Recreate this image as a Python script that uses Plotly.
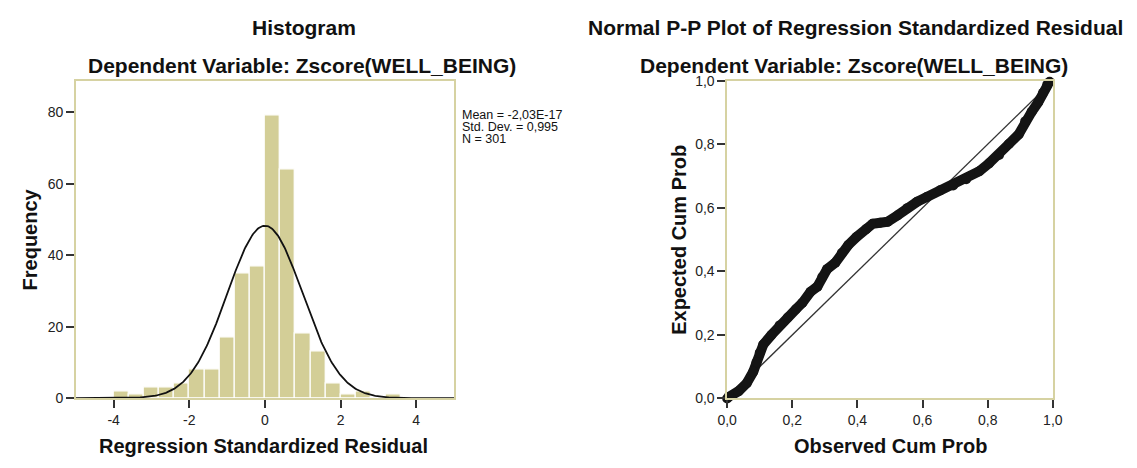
import numpy as np
import plotly.graph_objects as go

# ---------------- data ----------------
bin_left = [-4.0, -3.6, -3.2, -2.8, -2.4, -2.0, -1.6, -1.2, -0.8, -0.4,
            0.0, 0.4, 0.8, 1.2, 1.6, 2.0, 2.4, 2.8, 3.2]
counts = [2, 1, 3, 3, 4, 8, 8, 17, 35, 37,
          79, 64, 18, 13, 4, 1, 2, 0, 1]
bin_width = 0.4
mean_val = -2.03e-17
sd_val = 0.995
n_val = 301

hist_xticks = [-4, -2, 0, 2, 4]
hist_xticktext = ["-4", "-2", "0", "2", "4"]
hist_yticks = [0, 20, 40, 60, 80]

pp_observed = [0.0, 0.005, 0.035, 0.060, 0.080, 0.090, 0.100, 0.111, 0.136, 0.161,
               0.186, 0.211, 0.231, 0.256, 0.277, 0.292, 0.307, 0.332, 0.352, 0.372,
               0.397, 0.427, 0.447, 0.470, 0.493, 0.523, 0.553, 0.583, 0.613, 0.654,
               0.694, 0.734, 0.774, 0.804, 0.835, 0.865, 0.895, 0.915, 0.935, 0.955,
               0.970, 0.983, 0.990]
pp_expected = [0.0, 0.005, 0.023, 0.048, 0.084, 0.114, 0.144, 0.170, 0.200, 0.230,
               0.255, 0.281, 0.301, 0.336, 0.352, 0.382, 0.407, 0.427, 0.458, 0.483,
               0.508, 0.533, 0.550, 0.553, 0.556, 0.576, 0.599, 0.619, 0.634, 0.655,
               0.670, 0.690, 0.715, 0.740, 0.766, 0.801, 0.831, 0.872, 0.902, 0.932,
               0.962, 0.988, 0.997]
pp_ticks = [0.0, 0.2, 0.4, 0.6, 0.8, 1.0]
pp_ticktext = ["0,0", "0,2", "0,4", "0,6", "0,8", "1,0"]

stats_lines = ["Mean = -2,03E-17", "Std. Dev. = 0,995", "N = 301"]

# ---------------- figure ----------------
W, H = 1137, 468
FONT = "Liberation Sans, Arial, sans-serif"
KHAKI = "#d6d2a2"
BAR = "#d3ce97"
TICK = "#333333"

def px(x):
    return x / W

def py(y):
    return 1 - y / H

fig = go.Figure()

bar_centers = [b + bin_width / 2 for b in bin_left]
fig.add_trace(go.Bar(x=bar_centers, y=counts, width=bin_width,
                     marker=dict(color=BAR, line=dict(color="white", width=1.2)),
                     xaxis="x", yaxis="y", hoverinfo="x+y"))

xs = np.linspace(-5, 5, 400)
dens = n_val * bin_width * np.exp(-0.5 * ((xs - mean_val) / sd_val) ** 2) / (sd_val * np.sqrt(2 * np.pi))
fig.add_trace(go.Scatter(x=xs, y=dens, mode="lines",
                         line=dict(color="#111111", width=1.8),
                         xaxis="x", yaxis="y", hoverinfo="skip"))

fig.add_trace(go.Scatter(x=[0, 1], y=[0, 1], mode="lines",
                         line=dict(color="#333333", width=1.3),
                         xaxis="x2", yaxis="y2", hoverinfo="skip"))
fig.add_trace(go.Scatter(x=pp_observed, y=pp_expected, mode="lines+markers",
                         line=dict(color="#141414", width=10),
                         marker=dict(symbol="circle", size=10, color="#141414"),
                         cliponaxis=False,
                         xaxis="x2", yaxis="y2"))

axis_common = dict(showgrid=False, zeroline=False, showline=True, linecolor=KHAKI,
                   linewidth=1.5, mirror=True, ticks="outside", ticklen=8,
                   tickwidth=1.5, tickcolor=TICK,
                   tickfont=dict(family=FONT, size=14, color="#222222"))

fig.update_layout(
    width=W, height=H,
    margin=dict(l=0, r=0, t=0, b=0),
    paper_bgcolor="white", plot_bgcolor="white",
    showlegend=False, bargap=0,
    xaxis=dict(domain=[px(67), px(452)], range=[-5, 5], tickvals=hist_xticks,
               ticktext=hist_xticktext, anchor="y", **axis_common),
    yaxis=dict(domain=[py(404), py(76)], range=[0, (404 - 76) / 3.7],
               tickvals=hist_yticks, anchor="x", **axis_common),
    xaxis2=dict(domain=[px(730), px(1061.5)], range=[0, 1], tickvals=pp_ticks,
                ticktext=pp_ticktext, anchor="y2", **axis_common),
    yaxis2=dict(domain=[py(404.3), py(75.3)], range=[0, 1], tickvals=pp_ticks,
                ticktext=pp_ticktext, anchor="x2", **axis_common),
)

def ann(text, x, y, size, bold=True, angle=0, xanchor="center"):
    fig.add_annotation(text=f"<b>{text}</b>" if bold else text,
                       x=px(x), y=py(y), xref="paper", yref="paper",
                       xanchor=xanchor, yanchor="middle", showarrow=False,
                       textangle=angle, borderpad=0,
                       font=dict(family=FONT, size=size, color="#111111"))

ann("Histogram", 299, 20, 21)
ann("Dependent Variable: Zscore(WELL_BEING)", 297, 60, 21)
ann("Normal P-P Plot of Regression Standardized Residual", 861, 20, 21)
ann("Dependent Variable: Zscore(WELL_BEING)", 859, 60, 21)
ann("Frequency", 20, 240, 20, angle=-90)
ann("Regression Standardized Residual", 258, 453, 20)
ann("Observed Cum Prob", 896, 453, 20)
ann("Expected Cum Prob", 681, 240, 20, angle=-90)
for i, line in enumerate(stats_lines):
    ann(line, 459, 111 + 12.5 * i, 12.5, bold=False, xanchor="left")

fig.write_html(
    "out.html",
    post_script="document.body.style.margin='0';document.body.style.padding='0';"
                "document.documentElement.style.overflow='hidden';",
)
